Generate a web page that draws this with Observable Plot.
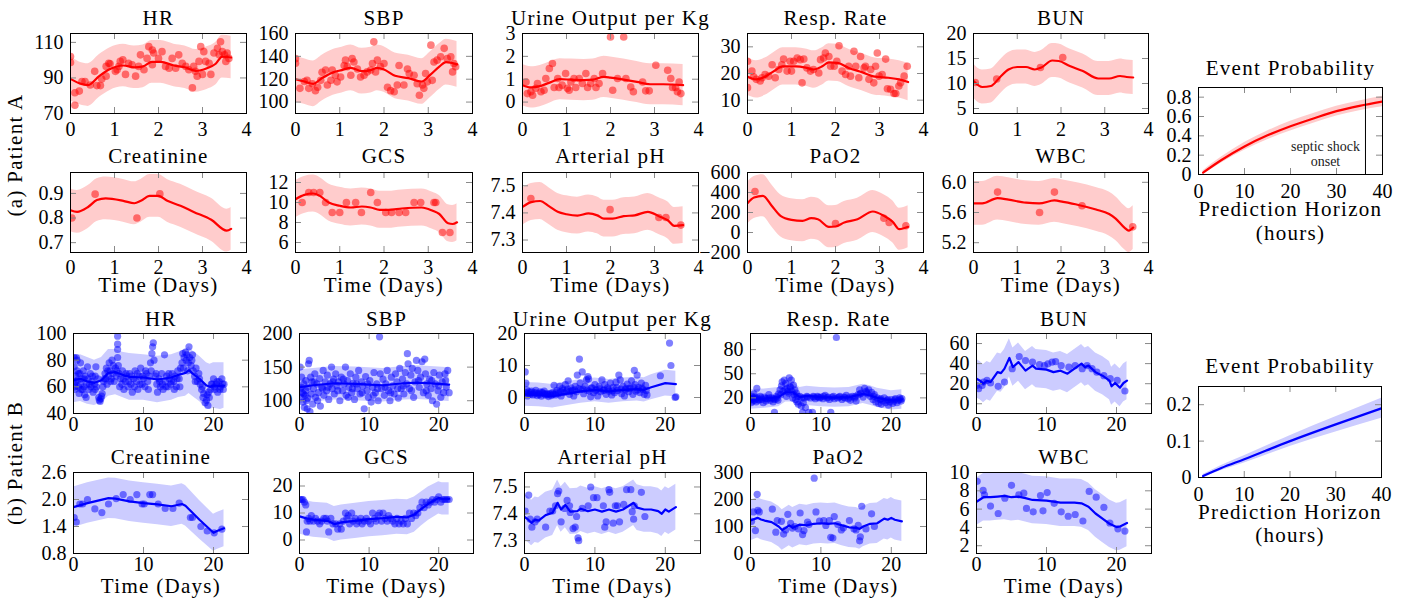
<!DOCTYPE html>
<html><head><meta charset="utf-8">
<script src="https://cdn.jsdelivr.net/npm/d3@7"></script>
<script src="https://cdn.jsdelivr.net/npm/@observablehq/plot@0.6"></script>
<style>
html,body{margin:0;padding:0;background:#fff;}
#root{position:relative;width:1425px;height:604px;overflow:hidden;background:#fff;font-family:'Liberation Serif','DejaVu Serif',serif;}
.pn{position:absolute;}
.plab{position:absolute;white-space:nowrap;font-size:21px;letter-spacing:1.3px;transform:translate(-50%,-50%) rotate(-90deg);line-height:1;}
</style></head><body><div id="root"></div>
<script>
// ---------------- DATA ----------------
// ticks
const xTicksA = [0,1,2,3,4];
const xTicksB = [0,10,20];
const xTicksEP = [0,10,20,30,40];

// Patient A fits: [day, mean, lower, upper]
const aHR_fit = [[0,89.5,77,102],[0.2,87,75,99],[0.4,86,74,98],[0.65,91,79,103],[0.9,95,83,107],[1.2,97,85,109],[1.45,96,84,108],[1.65,96.5,84.5,108.5],[1.85,99,87,111],[2.05,99,87,111],[2.35,97,85,109],[2.6,96,84,108],[2.85,94,82,106],[3.1,95.5,83.5,107.5],[3.3,98,86,110],[3.45,102,90,114],[3.65,101.5,89.5,113.5]];
const aHR_pts = [[0,102],[0,98.7],[0.1,81.7],[0.1,74.6],[0.2,82.6],[0.26,88],[0.33,88],[0.45,86],[0.55,93.7],[0.6,85.7],[0.68,85.7],[0.71,89.4],[0.81,96.5],[0.81,91],[0.87,98.3],[0.9,98],[1.02,93.7],[1.06,94.6],[1.1,96.5],[1.13,99.3],[1.19,100.2],[1.25,92],[1.32,98.3],[1.4,97.4],[1.48,91],[1.55,96.5],[1.59,103],[1.67,94.6],[1.74,101],[1.78,107.6],[1.86,105.7],[1.86,97.4],[1.89,104],[2,101],[2.08,104.8],[2.16,96.5],[2.24,95.5],[2.31,101],[2.39,95.5],[2.46,103],[2.54,98.3],[2.62,96.5],[2.69,94.6],[2.77,84.4],[2.8,96.5],[2.84,93.7],[2.88,91],[2.92,99.3],[2.96,107.6],[3.0,92],[3.03,104.8],[3.07,99.3],[3.15,98.3],[3.19,92],[3.26,104],[3.34,106.7],[3.38,103],[3.41,110.4],[3.45,104.8],[3.5,103],[3.53,99.3],[3.56,104],[3.6,101]];

const aSBP_fit = [[0,120,100,140],[0.2,118,98,138],[0.4,116,96,136],[0.6,121,101,141],[0.85,126,106,146],[1.05,128,108,148],[1.25,130,110,150],[1.5,127,107,147],[1.7,128,108,148],[1.85,130,110,150],[2.0,128.5,108.5,148.5],[2.25,123,103,143],[2.55,121,101,141],[2.85,118,98,138],[3.05,124,104,144],[3.25,131,111,151],[3.4,135,115,155],[3.65,133,113,153]];
const aSBP_pts = [[0,138],[0,134],[0.1,112],[0.2,118],[0.26,119],[0.3,112],[0.38,116],[0.45,110],[0.5,113],[0.57,119],[0.6,126],[0.68,128],[0.72,115],[0.8,119],[0.83,128],[0.9,123.5],[0.94,117.7],[1.02,122],[1.1,132],[1.13,136.7],[1.17,131],[1.25,123.5],[1.28,138],[1.32,135],[1.4,129],[1.47,122],[1.55,123.5],[1.62,126.4],[1.7,128],[1.74,133.7],[1.77,152.7],[1.81,126.4],[1.85,136.7],[1.92,131],[2,133.7],[2.08,113],[2.15,110],[2.23,109],[2.3,115],[2.34,132],[2.45,115],[2.53,129],[2.57,125],[2.68,123.5],[2.75,116],[2.8,106],[2.87,115],[2.9,112],[2.94,125],[2.98,117.7],[3.06,149.8],[3.09,119],[3.13,135],[3.2,136.7],[3.28,139.6],[3.36,147],[3.43,138],[3.51,139.6],[3.55,126.4],[3.58,133.7],[3.62,131]];

const aUrine_fit = [[0,0.74,-0.16,1.64],[0.2,0.64,-0.26,1.54],[0.4,0.7,-0.2,1.6],[0.6,0.84,-0.06,1.74],[0.85,1.0,0.1,1.9],[1.1,0.98,0.08,1.88],[1.4,0.96,0.06,1.86],[1.6,0.98,0.08,1.88],[1.85,1.1,0.2,2.0],[2.0,1.07,0.17,1.97],[2.3,0.98,0.08,1.88],[2.6,0.88,-0.02,1.78],[2.9,0.78,-0.12,1.68],[3.2,0.78,-0.12,1.68],[3.65,0.74,-0.16,1.64]];
const aUrine_pts = [[0.08,0.88],[0.11,0.37],[0.19,0.45],[0.23,0.3],[0.3,0.6],[0.34,0.81],[0.42,0.45],[0.49,0.52],[0.53,1.03],[0.61,1.47],[0.68,1.69],[0.72,0.64],[0.8,1.03],[0.83,0.64],[0.9,0.74],[0.98,1.25],[1.02,0.6],[1.06,0.52],[1.1,0.88],[1.17,1.03],[1.21,0.64],[1.29,1.03],[1.36,0.81],[1.44,1.25],[1.48,0.64],[1.55,0.81],[1.63,1.03],[1.67,0.64],[1.74,0.81],[1.82,1.25],[2.0,2.85],[2.05,0.52],[2.16,1.03],[2.3,2.85],[2.35,1.03],[2.46,0.66],[2.52,0.45],[2.73,0.88],[2.8,0.49],[2.88,0.49],[3.03,1.61],[3.3,1.39],[3.37,1.03],[3.41,0.64],[3.48,0.64],[3.52,0.45],[3.56,0.88],[3.6,0.37]];

const aResp_fit = [[0,18.8,11.8,25.8],[0.2,17.8,10.8,24.8],[0.4,18.8,11.8,25.8],[0.6,20.9,13.9,27.9],[0.8,22.7,15.7,29.7],[1.1,22.7,15.7,29.7],[1.35,22.1,15.1,29.1],[1.5,21.5,14.5,28.5],[1.7,22.7,15.7,29.7],[1.85,24.2,17.2,31.2],[2.05,24,17,31],[2.3,22.1,15.1,29.1],[2.6,20.5,13.5,27.5],[2.9,18.8,11.8,25.8],[3.2,18.4,11.4,25.4],[3.45,17.8,10.8,24.8],[3.65,16.8,9.8,23.8]];
const aResp_pts = [[0,24.6],[0,14.7],[0.1,20.9],[0.14,18.8],[0.2,17.8],[0.29,17.2],[0.33,18.4],[0.4,19.6],[0.48,19],[0.56,23.3],[0.63,18.4],[0.71,21.5],[0.78,23.3],[0.82,25.4],[0.9,20.9],[0.97,24.6],[1.0,20.9],[1.05,24.6],[1.13,25.8],[1.2,25.2],[1.24,16.5],[1.28,25.4],[1.35,22.1],[1.43,20.9],[1.5,21.5],[1.62,20.2],[1.66,25.2],[1.73,25.8],[1.77,27.7],[1.85,26.4],[1.89,22.7],[1.97,22.7],[2.03,24.6],[2.08,30.4],[2.15,20.9],[2.23,19.6],[2.3,22.7],[2.34,19],[2.42,28.3],[2.46,22.7],[2.53,18.4],[2.57,26.4],[2.65,22.1],[2.68,22.7],[2.76,17.8],[2.8,21.5],[2.87,16.5],[2.91,22.7],[2.95,27.7],[2.99,19],[3.06,19.6],[3.14,25.4],[3.18,14.3],[3.25,14.1],[3.33,12.5],[3.37,12.5],[3.44,15.3],[3.48,16.5],[3.56,19],[3.63,22.7]];

const aBUN_fit = [[0,10.5,7.1,13.9],[0.2,9.3,5.9,12.7],[0.4,9.5,6.1,12.9],[0.6,11.2,7.8,14.6],[0.8,12.8,9.4,16.2],[1.0,13.3,9.9,16.7],[1.2,13.3,9.9,16.7],[1.4,12.8,9.4,16.2],[1.55,13.2,9.8,16.6],[1.8,14.6,11.2,18],[1.95,14.5,11.1,17.9],[2.2,13.5,10.1,16.9],[2.5,12.5,9.1,15.9],[2.85,11,7.6,14.4],[3.1,11,7.6,14.4],[3.35,11.5,8.1,14.9],[3.5,11.3,7.9,14.7],[3.65,11.2,7.8,14.6]];
const aBUN_pts = [[0.04,10.2],[0.53,10.9],[1.53,13.2],[2.04,15.2]];

const aCreat_fit = [[0,0.832,0.745,0.919],[0.15,0.825,0.738,0.912],[0.4,0.845,0.758,0.932],[0.6,0.873,0.786,0.96],[0.8,0.88,0.793,0.967],[1.2,0.87,0.783,0.957],[1.45,0.86,0.773,0.947],[1.6,0.87,0.783,0.957],[1.8,0.89,0.803,0.977],[2.0,0.89,0.803,0.977],[2.2,0.87,0.783,0.957],[2.5,0.85,0.763,0.937],[2.8,0.825,0.738,0.912],[3.2,0.793,0.706,0.88],[3.55,0.749,0.662,0.836],[3.65,0.756,0.669,0.843]];
const aCreat_pts = [[0.03,0.8],[0.56,0.897],[1.51,0.8],[2.03,0.898]];

const aGCS_fit = [[0,10.33,8.48,12.18],[0.2,10.76,8.91,12.61],[0.4,10.9,9.05,12.75],[0.55,10.66,8.81,12.51],[0.75,10,8.15,11.85],[1.0,9.67,7.82,11.52],[1.25,9.5,7.65,11.35],[1.5,9.6,7.75,11.45],[1.7,9.5,7.65,11.35],[1.9,9.27,7.42,11.12],[2.1,9.27,7.42,11.12],[2.4,9.4,7.55,11.25],[2.85,9.5,7.65,11.35],[3.1,9.17,7.32,11.02],[3.25,8.85,7.0,10.7],[3.45,7.92,6.07,9.77],[3.55,7.85,6.0,9.7],[3.65,8.02,6.17,9.87]];
const aGCS_pts = [[0.15,10],[0.3,11],[0.41,11],[0.55,11],[0.68,10],[0.83,9],[1.0,9],[1.15,10],[1.36,10],[1.49,9],[1.7,11],[1.85,10],[2.04,9],[2.17,9],[2.34,9],[2.49,9],[2.68,10],[2.83,10],[3.13,10],[3.17,10],[3.32,7],[3.49,7]];

const aPH_fit = [[0,7.422,7.354,7.49],[0.2,7.44,7.372,7.508],[0.4,7.444,7.376,7.512],[0.6,7.425,7.357,7.493],[0.8,7.404,7.336,7.472],[1.0,7.395,7.327,7.463],[1.25,7.39,7.322,7.458],[1.5,7.398,7.33,7.466],[1.7,7.391,7.323,7.459],[1.85,7.379,7.311,7.447],[2.05,7.379,7.311,7.447],[2.3,7.388,7.32,7.456],[2.55,7.391,7.323,7.459],[2.85,7.404,7.336,7.472],[3.1,7.388,7.32,7.456],[3.3,7.373,7.305,7.441],[3.45,7.352,7.284,7.42],[3.65,7.355,7.287,7.423]];
const aPH_pts = [[0.19,7.453],[1.99,7.412],[3.1,7.383],[3.26,7.383],[3.6,7.355]];

const aPaO2_fit = [[0,293,83,503],[0.15,350,140,560],[0.35,367,157,577],[0.55,267,57,477],[0.75,167,-43,377],[1.0,127,-83,337],[1.25,117,-93,327],[1.45,143,-67,353],[1.6,133,-77,343],[1.85,57,-153,267],[2.0,60,-150,270],[2.2,100,-110,310],[2.5,133,-77,343],[2.85,210,0,420],[3.1,167,-43,377],[3.3,107,-103,317],[3.45,33,-177,243],[3.65,57,-153,267]];
const aPaO2_pts = [[0.17,410],[2.0,90],[3.1,143],[3.22,100],[3.6,67]];

const aWBC_fit = [[0,5.72,5.43,6.01],[0.2,5.72,5.43,6.01],[0.55,5.79,5.5,6.08],[0.8,5.77,5.48,6.06],[1.2,5.73,5.44,6.02],[1.5,5.72,5.43,6.01],[1.85,5.76,5.47,6.05],[2.05,5.74,5.45,6.03],[2.4,5.7,5.41,5.99],[2.8,5.64,5.35,5.93],[3.1,5.58,5.29,5.87],[3.25,5.52,5.23,5.81],[3.45,5.4,5.11,5.69],[3.55,5.36,5.07,5.65],[3.65,5.4,5.11,5.69]];
const aWBC_pts = [[0.55,5.87],[1.51,5.6],[1.85,5.87],[2.48,5.69],[3.64,5.41]];

// Event probability: [hour, mean, lower, upper]
const epA_fit = [[1,0.02,0.0,0.04],[5,0.15,0.12,0.18],[10,0.29,0.25,0.33],[15,0.405,0.36,0.45],[20,0.5,0.45,0.55],[25,0.58,0.53,0.63],[30,0.655,0.605,0.705],[35,0.71,0.66,0.76],[40,0.755,0.7,0.81]];
const epA_onset = 36.3;
const epA_onsetLabel = "septic shock\nonset";
const epB_fit = [[1,0.004,0.0,0.008],[5,0.026,0.019,0.033],[10,0.05,0.04,0.06],[20,0.1,0.085,0.115],[30,0.146,0.125,0.167],[40,0.19,0.163,0.218]];

// Patient B fits
const bHR_fit = [[0,65,48,83],[1,66,49,84],[2,64,47,82],[3,63,46,80],[4,65,48,82],[5,70.5,53,88],[6,71,54,88],[7,69,52,86],[8,67.5,50,85],[10,67,50,84],[12,65.5,48,83],[14,67,50,84],[15,69,52,86],[16,70.5,53,88],[16.5,72.5,55,90],[17,70,53,87],[18,66,49,83],[19,61,44,78],[19.5,60,43,77],[20,61,44,78],[21,60.5,43,78],[21.5,61,44,78]];
const bHR_pts = [[0.1,82],[0.1,75],[0.1,62],[0.2,58],[0.2,60],[0.3,68],[0.4,82],[0.5,80],[0.5,72],[0.6,65],[0.7,60],[0.8,55],[0.9,70],[1.0,78],[1.0,62],[1.2,66],[1.3,58],[1.4,72],[1.5,60],[1.6,54],[1.7,68],[1.8,52],[1.9,62],[2.0,75],[2.1,66],[2.2,58],[2.4,70],[2.5,60],[2.6,64],[2.8,56],[3.0,62],[3.1,68],[3.2,75],[3.3,60],[3.5,66],[3.6,52],[3.7,50],[3.8,49],[3.9,51],[4.0,53],[4.1,55],[4.2,60],[4.3,64],[4.5,70],[4.6,66],[4.7,74],[4.8,62],[5.0,68],[5.1,78],[5.2,72],[5.4,66],[5.5,80],[5.6,70],[5.8,64],[6.0,74],[6.1,68],[6.3,98],[6.3,92],[6.3,88],[6.3,82],[6.4,76],[6.5,70],[6.7,66],[6.9,62],[7.0,72],[7.2,58],[7.4,64],[7.6,68],[7.8,60],[8.0,70],[8.2,62],[8.4,56],[8.6,66],[8.8,72],[9.0,64],[9.2,58],[9.4,68],[9.6,74],[9.8,62],[10.0,66],[10.2,60],[10.4,70],[10.6,64],[10.8,68],[11.0,78],[11.1,72],[11.2,85],[11.3,90],[11.4,93],[11.5,80],[11.7,68],[11.9,62],[12.0,56],[12.2,66],[12.4,60],[12.6,70],[12.8,58],[13.0,84],[13.1,64],[13.3,68],[13.5,60],[13.7,66],[13.9,62],[14.1,70],[14.3,64],[14.5,68],[14.7,60],[14.9,72],[15.1,66],[15.3,74],[15.5,78],[15.6,85],[15.8,82],[16.0,86],[16.1,80],[16.2,84],[16.4,78],[16.5,90],[16.6,82],[16.8,76],[17.0,84],[17.1,72],[17.3,68],[17.5,74],[17.7,64],[17.9,70],[18.1,62],[18.3,58],[18.5,52],[18.6,55],[18.8,48],[19.0,50],[19.1,54],[19.2,46],[19.4,52],[19.6,58],[19.8,62],[20.0,66],[20.2,58],[20.4,62],[20.6,56],[20.8,64],[21.0,60],[21.2,66],[21.4,58],[21.5,62],
[0.3,64],[0.7,70],[1.1,58],[1.5,66],[2.3,62],[2.7,68],[3.1,58],[4.4,66],[4.9,72],[5.3,64],[5.7,76],[6.2,72],[6.6,60],[7.1,66],[7.5,70],[7.9,64],[8.3,68],[8.7,60],[9.1,70],[9.5,62],[9.9,68],[10.3,72],[10.7,58],[11.8,70],[12.3,64],[12.7,62],[13.2,60],[13.6,70],[14.0,64],[14.4,58],[14.8,66],[15.2,60],[15.7,74],[16.3,72],[16.9,80],[17.4,64],[18.0,66],[18.4,60],[19.3,56],[19.7,62],[20.1,60],[20.5,64],[20.9,58],[21.3,62]];

const bSBP_fit = [[0,120,96,146],[2,123,98,148],[5,126,101,151],[8,125,100,150],[10,124,99,149],[12,123,98,148],[15,126,101,151],[17,127,102,152],[20,125,100,150],[21.5,124,99,149]];
const bSBP_pts = [[0.1,150],[0.1,118],[0.2,105],[0.3,135],[0.4,112],[0.5,98],[0.6,125],[0.7,90],[0.8,108],[0.9,130],[1.0,100],[1.1,88],[1.2,120],[1.3,155],[1.4,160],[1.5,84],[1.6,135],[1.7,110],[1.8,128],[1.9,95],[2.0,118],[2.2,140],[2.3,105],[2.5,125],[2.7,112],[2.9,133],[3.0,92],[3.2,120],[3.4,145],[3.5,108],[3.7,128],[3.9,115],[4.0,138],[4.2,102],[4.4,125],[4.6,150],[4.7,118],[4.9,132],[5.0,110],[5.2,140],[5.4,122],[5.6,128],[5.8,100],[6.0,135],[6.2,115],[6.4,125],[6.6,150],[6.7,108],[6.9,130],[7.1,120],[7.3,140],[7.5,112],[7.7,126],[7.9,102],[8.1,135],[8.3,118],[8.5,145],[8.7,110],[8.9,128],[9.1,122],[9.3,88],[9.5,136],[9.7,115],[9.9,105],[10.1,130],[10.3,98],[10.5,120],[10.7,142],[10.9,112],[11.1,125],[11.3,100],[11.5,195],[11.6,140],[11.8,118],[12.0,132],[12.2,108],[12.4,125],[12.6,145],[12.8,115],[13.0,100],[13.2,135],[13.4,122],[13.6,110],[13.8,140],[14.0,128],[14.2,104],[14.4,148],[14.6,118],[14.8,132],[15.0,110],[15.2,142],[15.4,125],[15.5,170],[15.6,155],[15.8,118],[16.0,138],[16.2,148],[16.4,105],[16.6,128],[16.8,160],[17.0,145],[17.2,120],[17.4,135],[17.6,158],[17.8,112],[18.0,162],[18.1,140],[18.3,125],[18.5,108],[18.7,132],[18.9,118],[19.1,100],[19.3,142],[19.5,125],[19.7,95],[19.9,115],[20.1,138],[20.3,105],[20.5,128],[20.7,112],[20.9,140],[21.1,120],[21.3,145],[21.5,112],
[0.3,120],[0.6,110],[0.9,115],[1.2,104],[2.1,128],[2.6,100],[3.3,118],[4.1,120],[4.8,128],[5.5,115],[6.3,132],[7.0,105],[7.6,118],[8.2,125],[9.0,112],[9.8,125],[10.6,108],[11.2,118],[12.3,120],[13.1,112],[14.1,118],[14.9,122],[16.1,115],[17.1,130],[18.2,115],[19.0,130],[20.0,122],[21.0,130]];

const bUrine_fit = [[0,1,-2.7,4.7],[2,0.8,-2.9,4.5],[4,0.4,-3.3,4.1],[5,0.8,-2.9,4.5],[8,1.9,-1.8,5.6],[10,2.4,-1.3,6.1],[12,1.9,-1.8,5.6],[14,2.4,-1.3,6.1],[16,2.6,-1.1,6.3],[17,2.4,-1.4,6.2],[18,3.2,-0.7,7.1],[20,4.5,0.5,8.5],[21.5,4.2,0.2,8.2]];
const bUrine_pts = [[0.1,8],[0.2,4.5],[0.2,1.5],[0.3,2.5],[0.4,0.5],[0.6,1.8],[0.8,1],[1.0,2],[1.2,0.8],[1.4,1.5],[1.6,2.2],[1.8,0.6],[2.0,1.2],[2.2,1.8],[2.4,0.4],[2.6,1.4],[2.8,2],[3.0,0.8],[3.2,1.2],[3.4,0.3],[3.6,1],[3.8,0.6],[4.0,1.5],[4.2,3.8],[4.4,0.8],[4.6,2.2],[4.8,1.2],[5.0,3.5],[5.2,0.5],[5.4,2.8],[5.6,1.5],[5.8,4],[6.0,2],[6.2,5.2],[6.4,1],[6.6,3],[6.8,2.2],[7.0,0.5],[7.2,3.5],[7.4,1.8],[7.5,7],[7.8,12],[7.9,4.5],[8.0,2.5],[8.2,8],[8.4,1.2],[8.6,3.5],[8.8,5.5],[9.0,6.5],[9.1,5.8],[9.2,2],[9.4,0.2],[9.6,3],[9.8,1.5],[10.0,4],[10.2,2.5],[10.4,0.5],[10.6,3.5],[10.8,1.8],[11.0,5.5],[11.2,2.2],[11.4,4],[11.6,1],[11.8,3],[12.0,2],[12.2,4.5],[12.4,0.8],[12.6,3.2],[12.8,1.5],[13.0,4.8],[13.2,2.2],[13.4,7],[13.6,5.5],[13.8,1.2],[14.0,3.5],[14.2,0.5],[14.4,2.8],[14.6,4.2],[14.8,1.8],[15.0,3],[15.2,5.2],[15.4,1],[15.6,8.5],[15.7,4],[15.8,2],[16.0,7],[16.2,3.2],[16.4,1.5],[16.6,4.5],[16.8,2.5],[17.0,1],[17.2,3.8],[17.4,0.8],[19.3,6.8],[20.6,17],[20.8,10],[21.4,0],[21.5,0.2],
[0.5,1.2],[0.9,1.6],[1.3,1.1],[1.7,1.4],[2.1,0.9],[2.5,1.6],[2.9,1.1],[3.3,0.9],[3.7,1.3],[4.1,1],[4.5,1.6],[5.1,1.8],[5.5,2.3],[6.1,2.6],[6.5,1.9],[7.1,2.4],[7.7,2.8],[8.3,2.6],[8.9,2.3],[9.5,2.9],[10.1,2.2],[10.7,2.7],[11.3,2.4],[11.9,2.5],[12.5,2.1],[13.1,3.1],[13.7,2.6],[14.3,2.4],[14.9,2.8],[15.5,3.2],[16.1,2.4],[16.7,2.9],[17.3,2.2]];

const bResp_fit = [[0,18,6,30],[2,19,7,31],[4,21,9,33],[5,27,15,40],[6,27,15,40],[7,21,9,33],[8,22.5,10.5,34.5],[10,21,9,33],[12,20.4,8.4,32.4],[14,21,9,33],[16,25,13,37],[17,23,11,35],[18,20,8,32],[20,17,5,29],[21.5,18,6,30]];
const bResp_pts = [[0.1,18],[0.1,14],[0.2,22],[0.3,16],[0.4,20],[0.5,25],[0.6,17],[0.7,19],[0.8,15],[0.9,32],[1.0,20],[1.2,17],[1.4,22],[1.6,18],[1.8,14],[2.0,21],[2.2,16],[2.4,19],[2.6,24],[2.8,17],[3.0,20],[3.2,15],[3.4,2],[3.5,18],[3.7,22],[3.9,17],[4.0,25],[4.2,30],[4.4,35],[4.5,40],[4.6,28],[4.8,42],[5.0,38],[5.1,22],[5.2,32],[5.4,26],[5.5,45],[5.6,34],[5.8,42],[5.9,28],[6.0,20],[6.1,36],[6.2,24],[6.3,30],[6.4,18],[6.5,26],[6.6,15],[6.8,12],[7.0,22],[7.2,10],[7.4,2],[7.5,14],[7.6,20],[7.8,8],[8.0,22],[8.3,2],[8.5,20],[8.8,2],[9.0,21],[9.2,19],[9.5,22],[9.8,20],[10.0,21],[10.3,19],[10.6,23],[10.9,20],[11.2,18],[11.4,2],[11.6,21],[11.9,19],[12.2,95],[12.4,20],[12.7,22],[13.0,18],[13.3,21],[13.6,23],[13.9,19],[14.2,17],[14.5,22],[14.8,20],[15.0,16],[15.3,24],[15.5,30],[15.7,26],[16.0,21],[16.2,32],[16.4,28],[16.6,25],[16.8,30],[17.0,22],[17.2,27],[17.4,18],[17.6,24],[17.8,15],[18.0,20],[18.2,13],[18.4,18],[18.6,12],[18.8,16],[19.0,20],[19.2,14],[19.4,17],[19.6,11],[19.8,15],[20.0,18],[20.2,13],[20.4,16],[20.6,19],[20.8,14],[21.0,17],[21.2,20],[21.4,16],[21.5,19],
[0.2,19],[0.6,21],[1.1,18],[1.5,20],[2.1,19],[2.7,20],[3.3,19],[3.8,20],[4.3,24],[4.9,30],[5.3,28],[5.7,33],[6.7,22],[7.3,20],[8.1,21],[8.9,22],[9.6,21],[10.4,22],[11.0,21],[11.8,22],[12.6,21],[13.4,20],[14.1,21],[14.9,22],[15.6,25],[16.5,27],[17.5,22],[18.5,19],[19.5,18],[20.5,18],[21.3,18]];

const bBUN_fit = [[0,25,6,44],[0.5,23,4,42],[1,20,1,39],[1.5,23,4,42],[2,21.6,2.6,40.6],[2.5,26.6,7.6,45.6],[3,31.5,12.5,50.5],[3.5,30.5,11.5,49.5],[4,35,16,54],[4.7,45.7,26.7,64.7],[5.2,36.5,17.5,55.5],[6,41.5,22.5,60.5],[7,33,14,52],[8,38,19,57],[8.5,35,16,54],[10,34,15,53],[11,31.5,12.5,50.5],[12,33,14,52],[13,30,11,49],[14,35,16,54],[15,40,21,59],[15.5,36.5,17.5,55.5],[16,38,19,57],[17,31.5,12.5,50.5],[18,28,9,47],[19,23,4,42],[19.3,17.4,-1.6,36.4],[19.8,20.7,1.7,39.7],[20.5,16,-3,35],[21,20.7,1.7,39.7],[21.5,23,4,42]];
const bBUN_pts = [[0,18.3],[0.3,15],[0.8,18.3],[1,21.6],[1.5,23.3],[2,20.7],[3.1,17.4],[4,21.6],[5.1,35],[6.1,47],[7,43],[8,41.5],[9,39],[9.7,38],[10.2,39.8],[10.8,41.5],[11.3,42],[12.1,38],[13.2,36.5],[14.1,38],[15.1,35],[15.8,38],[16.5,35],[17.2,31.5],[18.2,28],[19.1,25],[20.1,23.3],[21.2,12.7]];

const bCreat_fit = [[0,1.83,1.38,2.28],[2,1.92,1.47,2.37],[5,2.03,1.58,2.48],[6,2.02,1.57,2.47],[8,1.96,1.51,2.41],[10,1.92,1.47,2.37],[12,1.89,1.44,2.34],[14,1.85,1.4,2.3],[15.5,1.9,1.45,2.35],[16,1.86,1.41,2.31],[18,1.55,1.12,1.98],[20,1.26,0.85,1.67],[20.5,1.3,0.89,1.71],[21.5,1.36,0.95,1.77]];
const bCreat_pts = [[0.1,1.6],[0.4,1.5],[0.9,1.9],[1.3,1.9],[2,2.0],[3.05,1.79],[4.05,1.71],[5,1.9],[6.1,2.02],[7.1,2.11],[8.1,2.0],[9.05,2.11],[9.8,1.9],[10.1,1.9],[10.9,2.11],[11.3,2.11],[12.1,1.9],[13.1,1.8],[14.2,1.8],[15.1,1.92],[16.7,1.6],[17.0,1.6],[18.2,1.4],[19.1,1.3],[20.1,1.26],[21.2,1.34]];

const bGCS_fit = [[0,8.75,2.2,15.3],[1,8,1.5,14.5],[2,7.5,1,14],[4,7.1,0.6,13.6],[5,5.9,-0.6,12.4],[6,6.5,0,13],[8,7.1,0.6,13.6],[10,7.75,1.25,14.25],[12,8.1,1.6,14.6],[14,8.6,2.1,15.1],[15.5,8.4,1.9,14.9],[16.5,9.4,2.9,15.9],[17.5,11.5,5.2,17.8],[18.5,13.4,7.2,19.6],[20,15.6,9.6,21.6],[20.5,15.25,9.3,21.2],[21.5,15.25,9.3,21.2]];
const bGCS_pts = [[0.1,15],[0.3,15],[0.5,15],[0.7,14],[0.9,13],[1.0,3],[1.1,7],[1.3,8],[1.5,7],[1.7,9],[2.0,7],[2.3,8],[2.6,7],[2.9,6],[3.2,7],[3.5,8],[3.8,8],[4.0,7],[4.2,3],[4.5,8],[4.8,6],[5.2,6],[5.5,4],[5.8,6],[6.0,4],[6.3,7],[6.6,10],[6.8,8],[7.0,9],[7.2,6],[7.5,10],[7.7,7],[8.0,8],[8.2,6],[8.5,7],[8.8,8],[9.0,6],[9.3,7],[9.6,8],[9.9,7],[10.2,6],[10.5,10],[10.8,8],[11.0,7],[11.3,9],[11.5,10],[11.8,7],[12.0,10],[12.3,8],[12.6,7],[12.8,9],[13.1,8],[13.4,7],[13.7,6],[14.0,8],[14.3,6],[14.6,7],[14.9,6],[15.2,8],[15.5,6],[15.8,10],[16.1,8],[16.4,10],[16.7,9],[17.0,10],[17.3,12],[17.6,14],[17.9,12],[18.2,14],[18.5,13],[18.8,14],[19.1,15],[19.4,14],[19.7,15],[20.0,16],[20.3,14],[20.6,15],[20.9,15],[21.2,15],[21.5,15]];

const bPH_fit = [[0,7.388,7.303,7.473],[0.5,7.379,7.294,7.464],[1,7.366,7.281,7.451],[1.5,7.378,7.293,7.463],[2,7.375,7.29,7.46],[3,7.395,7.31,7.48],[4,7.404,7.319,7.489],[4.7,7.441,7.356,7.526],[5.2,7.416,7.331,7.501],[5.8,7.433,7.348,7.518],[6.5,7.408,7.323,7.493],[7.5,7.41,7.325,7.495],[8,7.419,7.334,7.504],[9,7.41,7.325,7.495],[10,7.416,7.331,7.501],[11,7.408,7.323,7.493],[12,7.416,7.331,7.501],[13,7.408,7.323,7.493],[14,7.416,7.331,7.501],[15,7.433,7.348,7.518],[15.5,7.441,7.356,7.526],[16,7.423,7.338,7.508],[17,7.416,7.331,7.501],[18,7.416,7.331,7.501],[19,7.41,7.325,7.495],[19.5,7.4,7.315,7.485],[20,7.416,7.331,7.501],[20.5,7.408,7.323,7.493],[21.5,7.425,7.34,7.51]];
const bPH_pts = [[0.1,7.41],[0.6,7.47],[0.8,7.38],[1.05,7.35],[1.5,7.37],[1.8,7.38],[3,7.35],[3.6,7.41],[4,7.41],[4.4,7.43],[4.7,7.475],[4.86,7.485],[5.2,7.37],[5.7,7.42],[6.05,7.45],[6.4,7.43],[6.5,7.405],[6.9,7.345],[7.2,7.35],[7.4,7.39],[7.6,7.31],[7.7,7.3],[8.2,7.42],[9.05,7.43],[9.4,7.5],[9.8,7.46],[10.3,7.46],[11.2,7.43],[11.4,7.35],[11.6,7.37],[12,7.49],[12.1,7.48],[12.6,7.365],[12.9,7.43],[13.2,7.43],[13.5,7.37],[14.1,7.435],[14.5,7.49],[15.1,7.49],[15.3,7.408],[15.5,7.38],[15.6,7.43],[16.6,7.48],[17.1,7.39]];

const bPaO2_fit = [[0,122,47,197],[1,132,57,207],[1.5,126,51,201],[2,122,47,197],[3,116,41,191],[4,100,25,175],[4.5,87,12,162],[5,95,20,170],[5.5,104,29,179],[6,95,20,170],[7,107,32,182],[8,104,29,179],[9,110,35,185],[10,112,37,187],[11,110,35,185],[12,112,37,187],[13,104,29,179],[14,97,22,172],[15,95,20,170],[15.5,91,16,166],[16,100,25,175],[17,110,35,185],[18,112,37,187],[19,129,54,204],[19.5,125,50,200],[20,132,57,207],[20.5,125,50,200],[21.5,119,44,194]];
const bPaO2_pts = [[0.15,119],[0.4,154],[0.7,85],[0.95,219],[1.05,160],[1.25,154],[3.1,164],[3.6,79],[3.8,122],[4.4,119],[4.7,72],[5,87],[5.3,145],[5.7,112],[5.95,94],[6.3,100],[6.8,91],[7.05,150],[7.4,70],[7.6,85],[8.1,116],[8.3,107],[9.05,279],[9.3,154],[9.8,120],[10.4,122],[10.7,104],[11.2,122],[11.4,60],[11.7,57],[11.9,137],[12.4,107],[12.9,87],[13.2,95],[14.05,122],[14.7,91],[15,87],[15.3,104],[15.5,47],[15.6,62],[15.8,175],[16.4,91],[17.2,147],[17.6,100]];

const bWBC_fit = [[0,6.8,4.2,9.4],[1,7.3,4.7,9.9],[2,7.3,4.7,9.9],[3,7.37,4.77,9.97],[4,7.44,4.84,10.04],[5,7.3,4.7,9.9],[6,7.37,4.77,9.97],[7,7.2,4.6,9.8],[8,7.0,4.4,9.6],[10,6.93,4.33,9.53],[12,6.7,4.1,9.3],[14,6.7,4.1,9.3],[15,6.63,4.03,9.23],[16,6.26,3.66,8.86],[17,5.52,2.92,8.12],[18,4.96,2.36,7.56],[19,4.4,1.8,7.0],[20,4.04,1.44,6.64],[20.5,4.1,1.5,6.7],[21.5,4.48,1.88,7.08]];
const bWBC_pts = [[0.1,9.04],[0.95,8.04],[1.14,7.56],[2,6.33],[3.1,5.52],[4.05,7.19],[5,8.6],[6.05,7.56],[6.76,7.74],[7.14,6.07],[8.1,5.7],[9.14,7.48],[9.5,5.81],[10.1,7.81],[11.1,6.63],[12.1,5.7],[13.1,5.22],[14.1,5.41],[15.2,4.7],[16.1,7.93],[17.1,7.3],[18.2,6.19],[19.05,4.48],[20.2,3.85],[21.2,3.6]];

// ---------------- RENDER ----------------
const SERIF = "'Liberation Serif','DejaVu Serif',serif";
const FS = 21;      // titles and axis labels
const FS_TICK = 20; // tick labels
const RED = {line: "#ff0000", band: "#ffcccc"};
const BLUE = {line: "#0000ff", band: "#ccccff"};
const f1 = d3.format(".1f");
const fG = d3.format("~g");
const fInt = d3.format("d");
const fEP = d => d === 0 ? "0" : f1(d);
const root = document.getElementById("root");

function panel(c) {
  const mL = 80, mR = 30, mT = 50, mB = 80;
  const W = c.w + mL + mR, H = c.h + mT + mB;
  const ty = 6 / c.h * (c.yd[1] - c.yd[0]);
  const tx = 6 / c.w * (c.xd[1] - c.xd[0]);
  const X = d => d[0];
  const marks = [];
  marks.push(Plot.areaY(c.fit, {x: X, y1: d => d[2], y2: d => d[3], fill: c.col.band, curve: c.curve, clip: true}));
  if (c.pts) marks.push(Plot.dot(c.pts, {x: X, y: d => d[1], r: c.r || 3.8, fill: c.col.line, fillOpacity: 0.5, clip: true}));
  marks.push(Plot.line(c.fit, {x: X, y: d => d[1], stroke: c.col.line, strokeWidth: 2.2, curve: c.curve, clip: true}));
  if (c.onset != null) {
    marks.push(Plot.ruleX([c.onset], {x: d => d, stroke: "black", strokeWidth: 1}));
    marks.push(Plot.text([c.onsetLabel], {x: () => c.onset, frameAnchor: "bottom", lineAnchor: "middle", dx: -40, dy: -21, fontSize: 14, lineHeight: 1.1, textAnchor: "middle", fill: "#222"}));
  }
  const g = "#8a8a8a";
  marks.push(
    Plot.ruleX(c.xt, {x: d => d, y1: () => c.yd[0], y2: () => c.yd[0] + ty, stroke: g}),
    Plot.ruleX(c.xt, {x: d => d, y1: () => c.yd[1], y2: () => c.yd[1] - ty, stroke: g}),
    Plot.ruleY(c.yt, {y: d => d, x1: () => c.xd[0], x2: () => c.xd[0] + tx, stroke: g}),
    Plot.ruleY(c.yt, {y: d => d, x1: () => c.xd[1], x2: () => c.xd[1] - tx, stroke: g}),
    Plot.frame({stroke: "black", strokeWidth: 1}),
    Plot.text([c.title], {frameAnchor: "top", lineAnchor: "middle", dy: c.tdy, fontSize: FS, fontFamily: SERIF})
  );
  if (c.xlab) marks.push(Plot.text([c.xlab], {frameAnchor: "bottom", lineAnchor: "middle", dy: c.xldy, fontSize: FS, fontFamily: SERIF}));
  if (c.xlab2) marks.push(Plot.text([c.xlab2], {frameAnchor: "bottom", lineAnchor: "middle", dy: c.xldy2, fontSize: FS, fontFamily: SERIF}));
  const svg = Plot.plot({
    width: W, height: H, marginLeft: mL, marginRight: mR, marginTop: mT, marginBottom: mB,
    style: {background: "transparent", fontFamily: SERIF, fontSize: FS_TICK + "px", overflow: "visible", maxWidth: "none"},
    x: {domain: c.xd, ticks: c.xt, tickSize: 0, tickPadding: c.xpad, tickFormat: fInt, label: null},
    y: {domain: c.yd, ticks: c.yt, tickSize: 0, tickPadding: 7, tickFormat: c.yf || fG, label: null},
    marks
  });
  svg.querySelectorAll('g[aria-label="text"]').forEach(el => {
    if (el.getAttribute("font-size") === String(FS)) el.style.letterSpacing = "1.3px";
  });
  const div = document.createElement("div");
  div.className = "pn";
  div.style.left = (c.left - mL) + "px";
  div.style.top = (c.top - mT) + "px";
  div.style.width = W + "px";
  div.style.height = H + "px";
  div.appendChild(svg);
  root.appendChild(div);
}

const colsA = [[70,176],[295,177],[522,176],[747,176],[973,175]];
const colsB = [[73,175],[299,174],[524,176],[750,176],[976,175]];
const titles1 = ["HR","SBP","Urine Output per Kg","Resp. Rate","BUN"];
const titles2 = ["Creatinine","GCS","Arterial pH","PaO2","WBC"];

const rowA1 = [
  {fit: aHR_fit, pts: aHR_pts, yd: [70,115], yt: [70,90,110]},
  {fit: aSBP_fit, pts: aSBP_pts, yd: [90,160], yt: [100,120,140,160]},
  {fit: aUrine_fit, pts: aUrine_pts, yd: [-0.5,3], yt: [0,1,2,3]},
  {fit: aResp_fit, pts: aResp_pts, yd: [5,35], yt: [10,20,30]},
  {fit: aBUN_fit, pts: aBUN_pts, yd: [4,20], yt: [5,10,15,20]}
];
const rowA2 = [
  {fit: aCreat_fit, pts: aCreat_pts, yd: [0.66,0.985], yt: [0.7,0.8,0.9]},
  {fit: aGCS_fit, pts: aGCS_pts, yd: [5,13], yt: [6,8,10,12]},
  {fit: aPH_fit, pts: aPH_pts, yd: [7.254,7.549], yt: [7.3,7.4,7.5]},
  {fit: aPaO2_fit, pts: aPaO2_pts, yd: [-200,600], yt: [-200,0,200,400,600]},
  {fit: aWBC_fit, pts: aWBC_pts, yd: [5.07,6.13], yt: [5.2,5.6,6.0], yf: f1}
];
const rowB1 = [
  {fit: bHR_fit, pts: bHR_pts, yd: [40,100], yt: [40,60,80,100]},
  {fit: bSBP_fit, pts: bSBP_pts, yd: [81,200], yt: [100,150,200]},
  {fit: bUrine_fit, pts: bUrine_pts, yd: [-5,20], yt: [0,10,20]},
  {fit: bResp_fit, pts: bResp_pts, yd: [0.6,100], yt: [20,50,80]},
  {fit: bBUN_fit, pts: bBUN_pts, yd: [-9.7,70], yt: [0,20,40,60]}
];
const rowB2 = [
  {fit: bCreat_fit, pts: bCreat_pts, yd: [0.8,2.6], yt: [0.8,1.4,2.0,2.6], yf: f1},
  {fit: bGCS_fit, pts: bGCS_pts, yd: [-5,25], yt: [0,10,20]},
  {fit: bPH_fit, pts: bPH_pts, yd: [7.252,7.554], yt: [7.3,7.4,7.5]},
  {fit: bPaO2_fit, pts: bPaO2_pts, yd: [0,300], yt: [0,100,200,300]},
  {fit: bWBC_fit, pts: bWBC_pts, yd: [1.15,10], yt: [2,4,6,8,10]}
];

rowA1.forEach((p, i) => panel({...p, title: titles1[i], left: colsA[i][0], w: colsA[i][1], top: 33, h: 80, xd: [0,4], xt: xTicksA, xpad: 8, col: RED, curve: "monotone-x", tdy: -15.5}));
rowA2.forEach((p, i) => panel({...p, title: titles2[i], left: colsA[i][0], w: colsA[i][1], top: 172, h: 80, xd: [0,4], xt: xTicksA, xpad: 7, col: RED, curve: "monotone-x", tdy: -16, xlab: "Time (Days)", xldy: 32.5}));
rowB1.forEach((p, i) => panel({...p, title: titles1[i], left: colsB[i][0], w: colsB[i][1], top: 333, h: 80, xd: [0,25], xt: xTicksB, xpad: 3, col: BLUE, curve: "linear", tdy: -14.5, r: 3.6}));
rowB2.forEach((p, i) => panel({...p, title: titles2[i], left: colsB[i][0], w: colsB[i][1], top: 472, h: 81, xd: [0,25], xt: xTicksB, xpad: 3, col: BLUE, curve: "linear", tdy: -15.5, xlab: "Time (Days)", xldy: 33, r: 3.6}));

panel({fit: epA_fit, title: "Event Probability", left: 1198, w: 184, top: 87, h: 87, xd: [0,40], xt: xTicksEP, xpad: 9, yd: [0,0.9], yt: [0,0.2,0.4,0.6,0.8], yf: fEP, col: RED, curve: "monotone-x", tdy: -19.5, xlab: "Prediction Horizon", xldy: 35, xlab2: "(hours)", xldy2: 58.5, onset: epA_onset, onsetLabel: epA_onsetLabel});
panel({fit: epB_fit, title: "Event Probability", left: 1198, w: 183, top: 386, h: 91, xd: [0,40], xt: xTicksEP, xpad: 9, yd: [0,0.25], yt: [0,0.1,0.2], yf: fEP, col: BLUE, curve: "monotone-x", tdy: -20, xlab: "Prediction Horizon", xldy: 34.5, xlab2: "(hours)", xldy2: 58});

// row labels
[["(a) Patient A", 155], ["(b) Patient B", 463]].forEach(([t, cy]) => {
  const d = document.createElement("div");
  d.className = "plab";
  d.textContent = t;
  d.style.left = "15px";
  d.style.top = cy + "px";
  root.appendChild(d);
});
</script></body></html>
